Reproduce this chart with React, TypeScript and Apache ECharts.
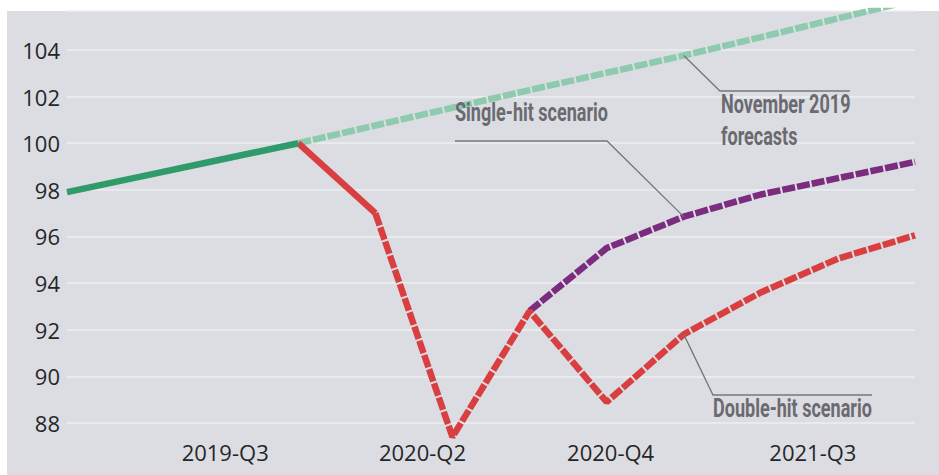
import React, { useEffect, useRef } from "react";
import * as echarts from "echarts";

const categories = [
  "2019-Q1", "2019-Q2", "2019-Q3", "2019-Q4",
  "2020-Q1", "2020-Q2", "2020-Q3", "2020-Q4",
  "2021-Q1", "2021-Q2", "2021-Q3", "2021-Q4",
];
const shownLabels = ["2019-Q3", "2020-Q2", "2020-Q4", "2021-Q3"];

const actualGdp = [97.9, 98.6, 99.3, 100.0, null, null, null, null, null, null, null, null];
const november2019Forecast = [null, null, null, 100.0, 100.76, 101.52, 102.28, 103.02, 103.76, 104.55, 105.35, 106.15];
const doubleHitActual = [null, null, null, 100.0, 97.0, null, null, null, null, null, null, null];
const doubleHitProjection = [null, null, null, null, 97.0, 87.4, 92.8, 88.9, 91.8, 93.6, 95.05, 96.05];
const singleHitProjection = [null, null, null, null, null, null, 92.8, 95.5, 96.85, 97.8, 98.5, 99.2];

const annotationIndex = 8;

// label nudges (px) to follow the reference's label placement
const labelShift: Record<string, number> = { "2019-Q3": 4, "2020-Q2": -30, "2020-Q4": 4, "2021-Q3": -25 };

const GREEN = "#2f9b6b";
const GREEN_LIGHT = "#8ecaae";
const RED = "#d93f40";
const PURPLE = "#7b2c7f";
const NOTE = "#6a6a70";
const LEADER = "#75757b";
const AXIS_FONT = '"Open Sans", sans-serif';
const NOTE_FONT = 'bold 22px Roboto, sans-serif';

export default function App() {
  const ref = useRef<HTMLDivElement>(null);

  useEffect(() => {
    document.body.style.margin = "0";
    if (!ref.current) return;
    const chart = echarts.init(ref.current, null, { renderer: "svg" });
    const dash = [13, 2];
    const rich: Record<string, any> = {};
    shownLabels.forEach((l, i) => {
      const d = labelShift[l] || 0;
      rich["s" + i] = {
        fontSize: 22,
        fontFamily: AXIS_FONT,
        color: "#262626",
        padding: d < 0 ? [0, -2 * d, 0, 0] : [0, 0, 0, 2 * d],
      };
    });
    chart.setOption({
      animation: false,
      backgroundColor: "transparent",
      grid: { left: 67, right: 24, top: 11, bottom: 52, containLabel: false, outerBoundsMode: "none" },
      xAxis: {
        type: "category",
        data: categories,
        boundaryGap: false,
        axisLine: { show: false },
        axisTick: { show: false },
        splitLine: { show: false },
        axisLabel: {
          interval: (_i: number, v: string) => shownLabels.includes(v),
          margin: 18,
          fontSize: 22,
          fontFamily: AXIS_FONT,
          color: "#262626",
          formatter: (v: string) => {
            const i = shownLabels.indexOf(v);
            return i >= 0 ? `{s${i}|${v}}` : v;
          },
          rich,
        },
      },
      yAxis: {
        type: "value",
        min: 88,
        max: 105.67,
        interval: 2,
        axisLine: { show: false },
        axisTick: { show: false },
        axisLabel: {
          showMaxLabel: false,
          margin: 7,
          fontSize: 22,
          fontFamily: AXIS_FONT,
          color: "#262626",
          padding: [0, 0, 6, 0],
          formatter: (v: number) => String(Math.round(v)),
        },
        splitLine: { lineStyle: { color: "#eeeef2", width: 1.5 } },
      },
      series: [
        {
          name: "November 2019 forecasts",
          type: "line",
          data: november2019Forecast,
          showSymbol: false,
          clip: true,
          lineStyle: { color: GREEN_LIGHT, width: 6.5, type: dash, cap: "butt" },
          z: 2,
        },
        {
          name: "Single-hit scenario",
          type: "line",
          data: singleHitProjection,
          showSymbol: false,
          clip: false,
          lineStyle: { color: PURPLE, width: 6.5, type: dash, cap: "butt" },
          z: 3,
        },
        {
          name: "Double-hit scenario",
          type: "line",
          data: doubleHitProjection,
          showSymbol: false,
          clip: false,
          lineStyle: { color: RED, width: 6.5, type: dash, cap: "butt" },
          z: 4,
        },
        {
          name: "Double-hit actual",
          type: "line",
          data: doubleHitActual,
          showSymbol: false,
          clip: false,
          lineStyle: { color: RED, width: 6.5 },
          z: 5,
        },
        {
          name: "Actual",
          type: "line",
          data: actualGdp,
          showSymbol: false,
          clip: false,
          lineStyle: { color: GREEN, width: 6.5 },
          z: 6,
        },
      ],
    });

    const px = (vals: (number | null)[]) =>
      chart.convertToPixel({ gridIndex: 0 }, [annotationIndex, vals[annotationIndex] as number]) as number[];
    const pNov = px(november2019Forecast);
    const pSingle = px(singleHitProjection);
    const pDouble = px(doubleHitProjection);

    const leader = (points: number[][]) => ({
      type: "polyline",
      silent: true,
      z: 10,
      shape: { points },
      style: { stroke: LEADER, lineWidth: 1.3, fill: null },
    });
    const note = (text: string, x: number, y: number) => ({
      type: "text",
      silent: true,
      z: 10,
      x,
      y,
      scaleX: 0.82,
      scaleY: 1.19,
      style: { text, font: NOTE_FONT, fill: NOTE, verticalAlign: "middle", align: "left" },
    });

    chart.setOption({
      graphic: [
        leader([[455, 141], [607, 141], [pSingle[0], pSingle[1]]]),
        note("Single-hit scenario", 455, 112),
        leader([[pNov[0], pNov[1]], [720, 91], [850, 91]]),
        note("November 2019", 721, 104),
        note("forecasts", 721, 136),
        leader([[pDouble[0], pDouble[1]], [713, 395], [872, 395]]),
        note("Double-hit scenario", 713, 408),
      ],
    });

    return () => chart.dispose();
  }, []);

  return (
    <div style={{ position: "relative", width: 939, height: 475, background: "#ffffff", overflow: "hidden" }}>
      <div style={{ position: "absolute", left: 7, top: 11, width: 932, height: 464, background: "#dcdde3" }} />
      <div ref={ref} style={{ position: "absolute", left: 0, top: 0, width: 939, height: 475 }} />
    </div>
  );
}
